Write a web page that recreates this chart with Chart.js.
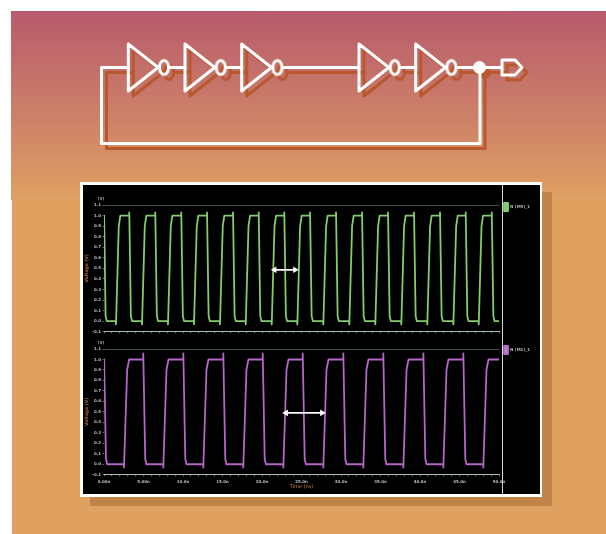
<!DOCTYPE html>
<html><head><meta charset="utf-8">
<script src="https://cdn.jsdelivr.net/npm/chart.js@4/dist/chart.umd.min.js"></script>
<style>
html,body{margin:0;padding:0;background:#fff;overflow:hidden}
#page{position:relative;width:606px;height:534px;overflow:hidden}
#grad{position:absolute;left:11px;top:11px;width:595px;height:189px;background:linear-gradient(#b85a6c 0%,#cc8068 55%,#dfa062 100%)}
#flat{position:absolute;left:12px;top:200px;width:594px;height:334px;background:#e0a060}
#shade{position:absolute;left:90px;top:192px;width:462px;height:314px;background:#c08348;}
#frame{position:absolute;left:80px;top:182px;width:462px;height:315px;background:#fff}
#black{position:absolute;left:83px;top:185px;width:457px;height:309px;background:#000}
#divider{position:absolute;left:502px;top:185px;width:1px;height:309px;background:#cfd6dc}
canvas{position:absolute}
#circuit{left:0;top:0;z-index:2}
#topC{left:84px;top:186px;z-index:3;filter:blur(.45px)}
#botC{left:84px;top:338px;z-index:3;filter:blur(.45px)}
</style></head><body>
<div id="page">
<div id="grad"></div><div id="flat"></div><div id="shade"></div><div id="frame"></div><div id="black"></div>
<canvas id="circuit" width="606" height="534"></canvas>
<canvas id="topC" width="456" height="152"></canvas>
<canvas id="botC" width="456" height="156"></canvas>
<div id="divider" style="z-index:4"></div>
</div>
<script>
const topName = "N (M5)_1";
const botName = "N (M1)_1";
const yLabelText = "Voltage (V)";
const xLabelText = "Time (ns)";
const unitText = "(V)";
const timeTicks = ["0.00n","5.00n","10.0n","15.0n","20.0n","25.0n","30.0n","35.0n","40.0n","45.0n","50.0n"];

const topTime = [0,0.02,0.2,0.35,
1.49,1.52,1.87,2.07,3.18,3.20,3.40,3.55,
4.78,4.81,5.16,5.36,6.47,6.49,6.69,6.84,
8.07,8.10,8.45,8.65,9.76,9.78,9.98,10.13,
11.36,11.39,11.74,11.94,13.02,13.04,13.24,13.39,
14.65,14.68,15.03,15.23,16.31,16.33,16.53,16.68,
17.91,17.94,18.29,18.49,19.56,19.58,19.78,19.93,
21.20,21.23,21.58,21.78,22.80,22.82,23.02,23.17,
24.44,24.47,24.82,25.02,26.06,26.08,26.28,26.43,
27.73,27.76,28.11,28.31,29.35,29.37,29.57,29.72,
31.02,31.05,31.40,31.60,32.64,32.66,32.86,33.01,
34.31,34.34,34.69,34.89,35.93,35.95,36.15,36.30,
37.60,37.63,37.98,38.18,39.22,39.24,39.44,39.59,
40.89,40.92,41.27,41.47,42.51,42.53,42.73,42.88,
44.19,44.22,44.57,44.77,45.76,45.78,45.98,46.13,
47.40,47.43,47.78,47.98,49.06,49.08,49.28,49.43,
50];
const topVolt = [1,0.98,0.05,0,
0,-0.03,0.9,1,1,1.03,0.05,0,
0,-0.03,0.9,1,1,1.03,0.05,0,
0,-0.03,0.9,1,1,1.03,0.05,0,
0,-0.03,0.9,1,1,1.03,0.05,0,
0,-0.03,0.9,1,1,1.03,0.05,0,
0,-0.03,0.9,1,1,1.03,0.05,0,
0,-0.03,0.9,1,1,1.03,0.05,0,
0,-0.03,0.9,1,1,1.03,0.05,0,
0,-0.03,0.9,1,1,1.03,0.05,0,
0,-0.03,0.9,1,1,1.03,0.05,0,
0,-0.03,0.9,1,1,1.03,0.05,0,
0,-0.03,0.9,1,1,1.03,0.05,0,
0,-0.03,0.9,1,1,1.03,0.05,0,
0,-0.03,0.9,1,1,1.03,0.05,0,
0,-0.03,0.9,1,1,1.03,0.05,0,
0];

const botTime = [0,0.02,0.25,0.4,
2.50,2.53,2.93,3.18,4.95,4.97,5.22,5.37,
7.48,7.51,7.91,8.16,10.02,10.04,10.29,10.44,
12.54,12.57,12.97,13.22,15.08,15.10,15.35,15.50,
17.60,17.63,18.03,18.28,20.07,20.09,20.34,20.49,
22.67,22.70,23.10,23.35,25.13,25.15,25.40,25.55,
27.73,27.76,28.16,28.41,30.27,30.29,30.54,30.69,
32.79,32.82,33.22,33.47,35.33,35.35,35.60,35.75,
37.86,37.89,38.29,38.54,40.40,40.42,40.67,40.82,
42.92,42.95,43.35,43.60,45.46,45.48,45.73,45.88,
47.98,48.01,48.41,48.66,50];
const botVolt = [1,0.98,0.05,0,
0,-0.03,0.9,1,1,1.057,0.05,0,
0,-0.03,0.9,1,1,1.057,0.05,0,
0,-0.03,0.9,1,1,1.057,0.05,0,
0,-0.03,0.9,1,1,1.057,0.05,0,
0,-0.03,0.9,1,1,1.057,0.05,0,
0,-0.03,0.9,1,1,1.057,0.05,0,
0,-0.03,0.9,1,1,1.057,0.05,0,
0,-0.03,0.9,1,1,1.057,0.05,0,
0,-0.03,0.9,1,1,1.057,0.05,0,
0,-0.03,0.9,1,1];

const topArrowTime = [21.58,24.18];
const topArrowVolt = [0.486,0.486];
const botArrowTime = [23.04,27.6];
const botArrowVolt = [0.49,0.49];
const minorTimes = [0,1,2,3,4,5,6,7,8,9,10,11,12,13,14,15,16,17,18,19,20,21,22,23,24,25,26,27,28,29,30,31,32,33,34,35,36,37,38,39,40,41,42,43,44,45,46,47,48,49,50];

// circuit diagram, in picture units
const wireX = [128,101.5,101.5,480,480,null, 170,185,null, 227,242,null, 284,359,null, 401,416,null, 458,502,null,
  128.3,128.3,158,128.3,null, 185,185,214.7,185,null, 241.7,241.7,271.4,241.7,null, 359,359,388.7,359,null, 415.7,415.7,445.4,415.7,null,
  502,502,515,522,515,502];
const wireY = [67.5,67.5,143.5,143.5,67.5,null, 67.5,67.5,null, 67.5,67.5,null, 67.5,67.5,null, 67.5,67.5,null, 67.5,67.5,null,
  44,91,67.5,44,null, 44,91,67.5,44,null, 44,91,67.5,44,null, 44,91,67.5,44,null, 44,91,67.5,44,null,
  60,75,75,67.5,60,60];
const bubbleX = [164,220.7,277.4,394.7,451.4];
const bubbleY = [67.5,67.5,67.5,67.5,67.5];
const nodeX = [479.5];
const nodeY = [67.5];

const zip = (a,b)=>a.map((v,i)=>({x:v,y:b[i]}));

function ellipse(color){
  const c=document.createElement('canvas');c.width=16;c.height=20;
  const g=c.getContext('2d');g.strokeStyle=color;g.lineWidth=3;
  g.beginPath();g.ellipse(8,10,4.6,7,0,0,Math.PI*2);g.stroke();return c;
}
const shadowCol='#b9582f', white='#ffffff';
function circuitSets(color,ax,ay,order){
  return [
   {data:zip(wireX,wireY),showLine:true,spanGaps:false,borderColor:color,borderWidth:3,pointRadius:0,borderJoinStyle:'round',borderCapStyle:'round',xAxisID:ax,yAxisID:ay,order},
   {data:zip(bubbleX,bubbleY),showLine:false,pointStyle:ellipse(color),pointRadius:8,xAxisID:ax,yAxisID:ay,order},
   {data:zip(nodeX,nodeY),showLine:false,pointStyle:'circle',pointRadius:6,backgroundColor:color,borderColor:color,xAxisID:ax,yAxisID:ay,order}
  ];
}
new Chart(document.getElementById('circuit'),{type:'scatter',
 data:{datasets:[...circuitSets(white,'x','y',1),...circuitSets(shadowCol,'xs','ys',2)]},
 options:{responsive:false,animation:false,events:[],layout:{padding:0,autoPadding:false},
  plugins:{legend:{display:false},tooltip:{enabled:false},title:{display:false}},
  scales:{x:{type:'linear',min:0,max:606,display:false},y:{type:'linear',min:0,max:534,reverse:true,display:false},
          xs:{type:'linear',min:-5,max:601,display:false},ys:{type:'linear',min:-5,max:529,reverse:true,display:false}}}});

const unitPlugin={id:'unit',afterDraw(ch){
  const c=ch.ctx,y=ch.scales.y;c.save();c.font='bold 4px "DejaVu Sans"';c.fillStyle='#9aa4a4';c.textAlign='center';
  c.fillText(unitText,17,y.getPixelForValue(1.1)-5);c.restore();}};
const legendShift={id:'legendShift',afterLayout(ch){
  const o=ch.options.legendMove; ch.legend.left+=o[0]; ch.legend.right+=o[0]; ch.legend.top+=o[1]; ch.legend.bottom+=o[1];}};

const lineFor=(v,col)=>(Math.abs(v-1.1)<1e-6||Math.abs(v+0.1)<1e-6)?col:'rgba(0,0,0,0)';

function panel(id,name,time,volt,arrowT,arrowV,color,swatch,showX,pad,move,limitCol){
  return new Chart(document.getElementById(id),{type:'scatter',
   data:{datasets:[
    {label:'arrow',data:zip(arrowT,arrowV),showLine:true,borderColor:'#fff',backgroundColor:'#fff',borderWidth:1.6,
     pointStyle:'triangle',pointRadius:2.2,pointRotation:[-90,90],order:1},
    {label:name,data:zip(time,volt),showLine:true,borderColor:color,backgroundColor:swatch,borderWidth:1.8,pointRadius:0,borderJoinStyle:'round',order:2}
   ]},
   plugins:[unitPlugin,legendShift],
   options:{responsive:false,animation:false,events:[],legendMove:move,
    layout:{padding:pad,autoPadding:false},
    plugins:{tooltip:{enabled:false},title:{display:false},
     legend:{display:true,position:'right',align:'start',
      labels:{filter:i=>i.text!=='arrow',boxWidth:4,boxHeight:8,padding:2,color:'#b4b8b8',font:{size:4,weight:'bold',family:'"DejaVu Sans"'}}}},
    scales:{
     x:{type:'linear',min:0,max:50,
      afterFit:s=>{s.height=showX?19.3:3;},
      grid:{display:true,drawOnChartArea:false,drawTicks:true,tickLength:1.5,tickColor:'#7f9296',tickWidth:.7},
      border:{color:'#a9bcbe',width:1},
      afterBuildTicks:a=>{a.ticks=minorTimes.map(v=>({value:v}));},
      ticks:{display:true,autoSkip:false,maxRotation:0,padding:3,color:'#b8bcbc',font:{size:4,weight:'bold',family:'"DejaVu Sans"'},
       callback:v=>(showX&&v%5===0)?timeTicks[v/5]:''},
      title:{display:showX,text:xLabelText,color:'#c9803f',padding:{top:0,bottom:4},font:{size:5,family:'"DejaVu Sans"'}}},
     y:{type:'linear',min:-0.1,max:1.1,
      afterFit:s=>{s.width=20;},
      grid:{display:true,drawTicks:true,tickLength:1.5,tickColor:'#7f9296',tickWidth:.7,lineWidth:.8,color:c=>lineFor(c.tick.value,limitCol)},
      border:{display:false},
      ticks:{stepSize:0.1,autoSkip:false,padding:1.5,color:'#b8bcbc',font:{size:4,weight:'bold',family:'"DejaVu Sans"'},
       callback:v=>v.toFixed(1)},
      title:{display:true,text:yLabelText,color:'#a8662f',padding:0,font:{size:4.5,weight:'bold',family:'"DejaVu Sans"'}}}
    }}});
}
panel('topC',topName,topTime,topVolt,topArrowTime,topArrowVolt,'#84cc6e','#7ecb6c',false,{top:19,bottom:3.3,left:0,right:3},[3,-4],'#51666e');
panel('botC',botName,botTime,botVolt,botArrowTime,botArrowVolt,'#b566c8','#b284c4',true,{top:11,bottom:0,left:0,right:3},[3,-5],'#51666e');
</script>
</body></html>
